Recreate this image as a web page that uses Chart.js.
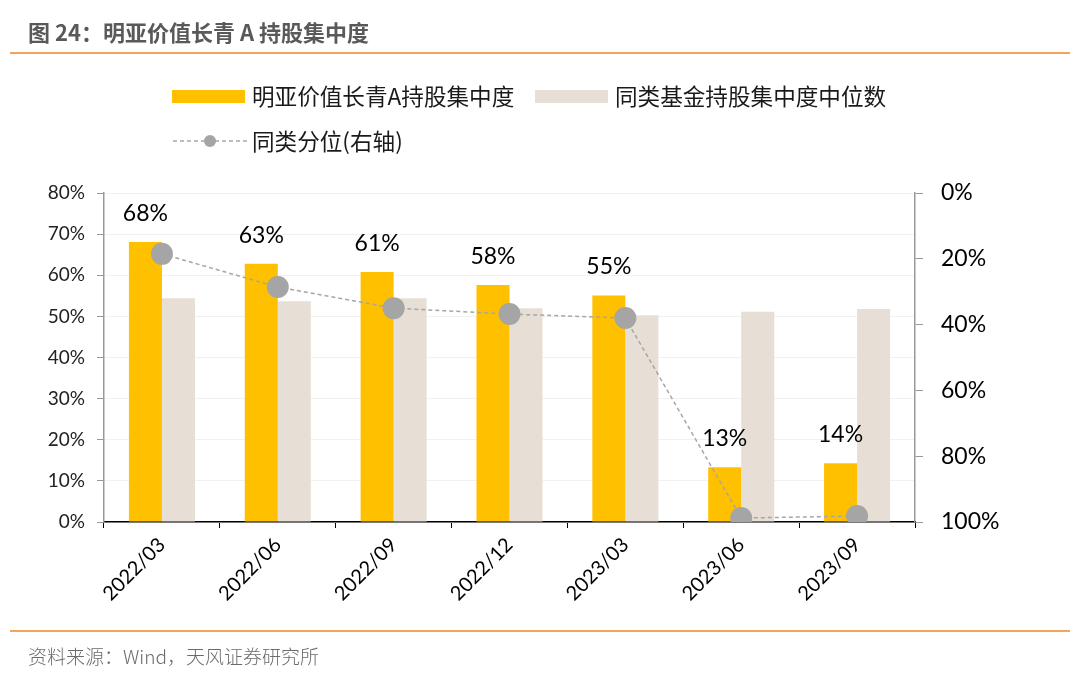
<!DOCTYPE html>
<html>
<head>
<meta charset="utf-8">
<script src="https://cdn.jsdelivr.net/npm/chart.js@4.4.0/dist/chart.umd.min.js"></script>
<style>
  body { margin: 0; background: #fff; }
  #page { position: relative; width: 1080px; height: 675px; overflow: hidden; font-family: "Noto Sans CJK SC", sans-serif; }
  #chart { position: absolute; left: 0; top: 0; }
  #title { position: absolute; left: 28px; top: 15px; font-size: 22px; font-weight: bold; color: #595959; }
  .rule { position: absolute; left: 10px; width: 1060px; height: 2px; background: #F5A35B; }
  #source { position: absolute; left: 28px; top: 642px; font-size: 19px; font-weight: 300; color: #6b6b6b; }
  .leg { position: absolute; font-size: 22.6px; color: #1a1a1a; line-height: 24px; }
  .sw { position: absolute; width: 73px; height: 13px; }
</style>
</head>
<body>
<div id="page">
  <canvas id="chart" width="1080" height="675"></canvas>
  <div id="title">图 24：明亚价值长青 A 持股集中度</div>
  <div class="rule" style="top:52px"></div>
  <div class="sw" style="left:172px;top:90px;background:#FFC000"></div>
  <div class="leg" style="left:252px;top:84px">明亚价值长青A持股集中度</div>
  <div class="sw" style="left:535px;top:90px;background:#E7DFD5"></div>
  <div class="leg" style="left:615px;top:84px">同类基金持股集中度中位数</div>
  <svg style="position:absolute;left:172px;top:133px" width="76" height="16">
    <line x1="1" y1="8" x2="75" y2="8" stroke="#A6A6A6" stroke-width="1.5" stroke-dasharray="4 3"/>
    <circle cx="38" cy="8" r="6" fill="#A5A5A5"/>
  </svg>
  <div class="leg" style="left:252px;top:129px">同类分位(右轴)</div>
  <div class="rule" style="top:630px"></div>
  <div id="source">资料来源：Wind，天风证券研究所</div>
</div>
<script>
const quarters = ['2022/03', '2022/06', '2022/09', '2022/12', '2023/03', '2023/06', '2023/09'];
const fundConcentration = [68.1, 62.8, 60.8, 57.6, 55.1, 13.3, 14.3];
const peerMedian = [54.4, 53.7, 54.4, 52.0, 50.3, 51.1, 51.8];
const peerRank = [18.5, 28.6, 35.0, 36.8, 38.0, 98.8, 98.2];
const leftTicks = [0, 10, 20, 30, 40, 50, 60, 70, 80];
const rightTicks = [0, 20, 40, 60, 80, 100];

const numFont = 'Lato, "Noto Sans", sans-serif';

const barLabels = {
  id: 'barLabels',
  afterDatasetsDraw(chart) {
    const ctx = chart.ctx;
    const meta = chart.getDatasetMeta(1);
    ctx.save();
    ctx.font = '23px ' + numFont;
    ctx.fillStyle = '#000';
    ctx.textAlign = 'center';
    ctx.textBaseline = 'bottom';
    meta.data.forEach((bar, i) => {
      ctx.fillText(Math.round(fundConcentration[i]) + '%', bar.x, bar.y - 17);
    });
    ctx.restore();
  }
};

new Chart(document.getElementById('chart'), {
  type: 'bar',
  data: {
    labels: quarters,
    datasets: [
      {
        type: 'line',
        label: '同类分位(右轴)',
        data: peerRank,
        yAxisID: 'y1',
        borderColor: '#A6A6A6',
        borderWidth: 1.5,
        borderDash: [4, 3],
        pointRadius: 11,
        pointBackgroundColor: '#A5A5A5',
        pointBorderWidth: 0,
        tension: 0,
        order: 0
      },
      {
        label: '明亚价值长青A持股集中度',
        data: fundConcentration,
        backgroundColor: '#FFC000',
        yAxisID: 'y',
        order: 1
      },
      {
        label: '同类基金持股集中度中位数',
        data: peerMedian,
        backgroundColor: '#E7DFD5',
        yAxisID: 'y',
        order: 1
      }
    ]
  },
  options: {
    responsive: false,
    animation: false,
    categoryPercentage: 0.57,
    barPercentage: 1,
    layout: { padding: { top: 193, left: 0, right: 0, bottom: 0 } },
    plugins: { legend: { display: false }, tooltip: { enabled: false } },
    scales: {
      x: {
        grid: { offset: true, drawOnChartArea: false, tickLength: 6, color: '#000' },
        border: { color: '#000', width: 1.5 },
        ticks: { minRotation: 45, maxRotation: 45, color: '#000', font: { size: 20, family: numFont }, padding: 5 },
        afterFit: s => { s.height = 153; }
      },
      y: {
        position: 'left',
        min: 0,
        max: 80,
        afterBuildTicks: s => { s.ticks = leftTicks.map(v => ({ value: v })); },
        grid: { color: '#f1f1f1', tickColor: '#999', tickLength: 7 },
        border: { color: '#999', width: 1.5 },
        ticks: { color: '#222', font: { size: 19, family: numFont }, padding: 12, callback: v => v + '%' },
        afterFit: s => { s.width = 104; }
      },
      y1: {
        position: 'right',
        min: 0,
        max: 100,
        reverse: true,
        afterBuildTicks: s => { s.ticks = rightTicks.map(v => ({ value: v })); },
        grid: { drawOnChartArea: false, tickColor: '#999', tickLength: 8 },
        border: { color: '#999', width: 1.5 },
        ticks: { color: '#000', font: { size: 23, family: numFont }, padding: 18, callback: v => v + '%' },
        afterFit: s => { s.width = 165; }
      }
    }
  },
  plugins: [barLabels]
});
</script>
</body>
</html>
